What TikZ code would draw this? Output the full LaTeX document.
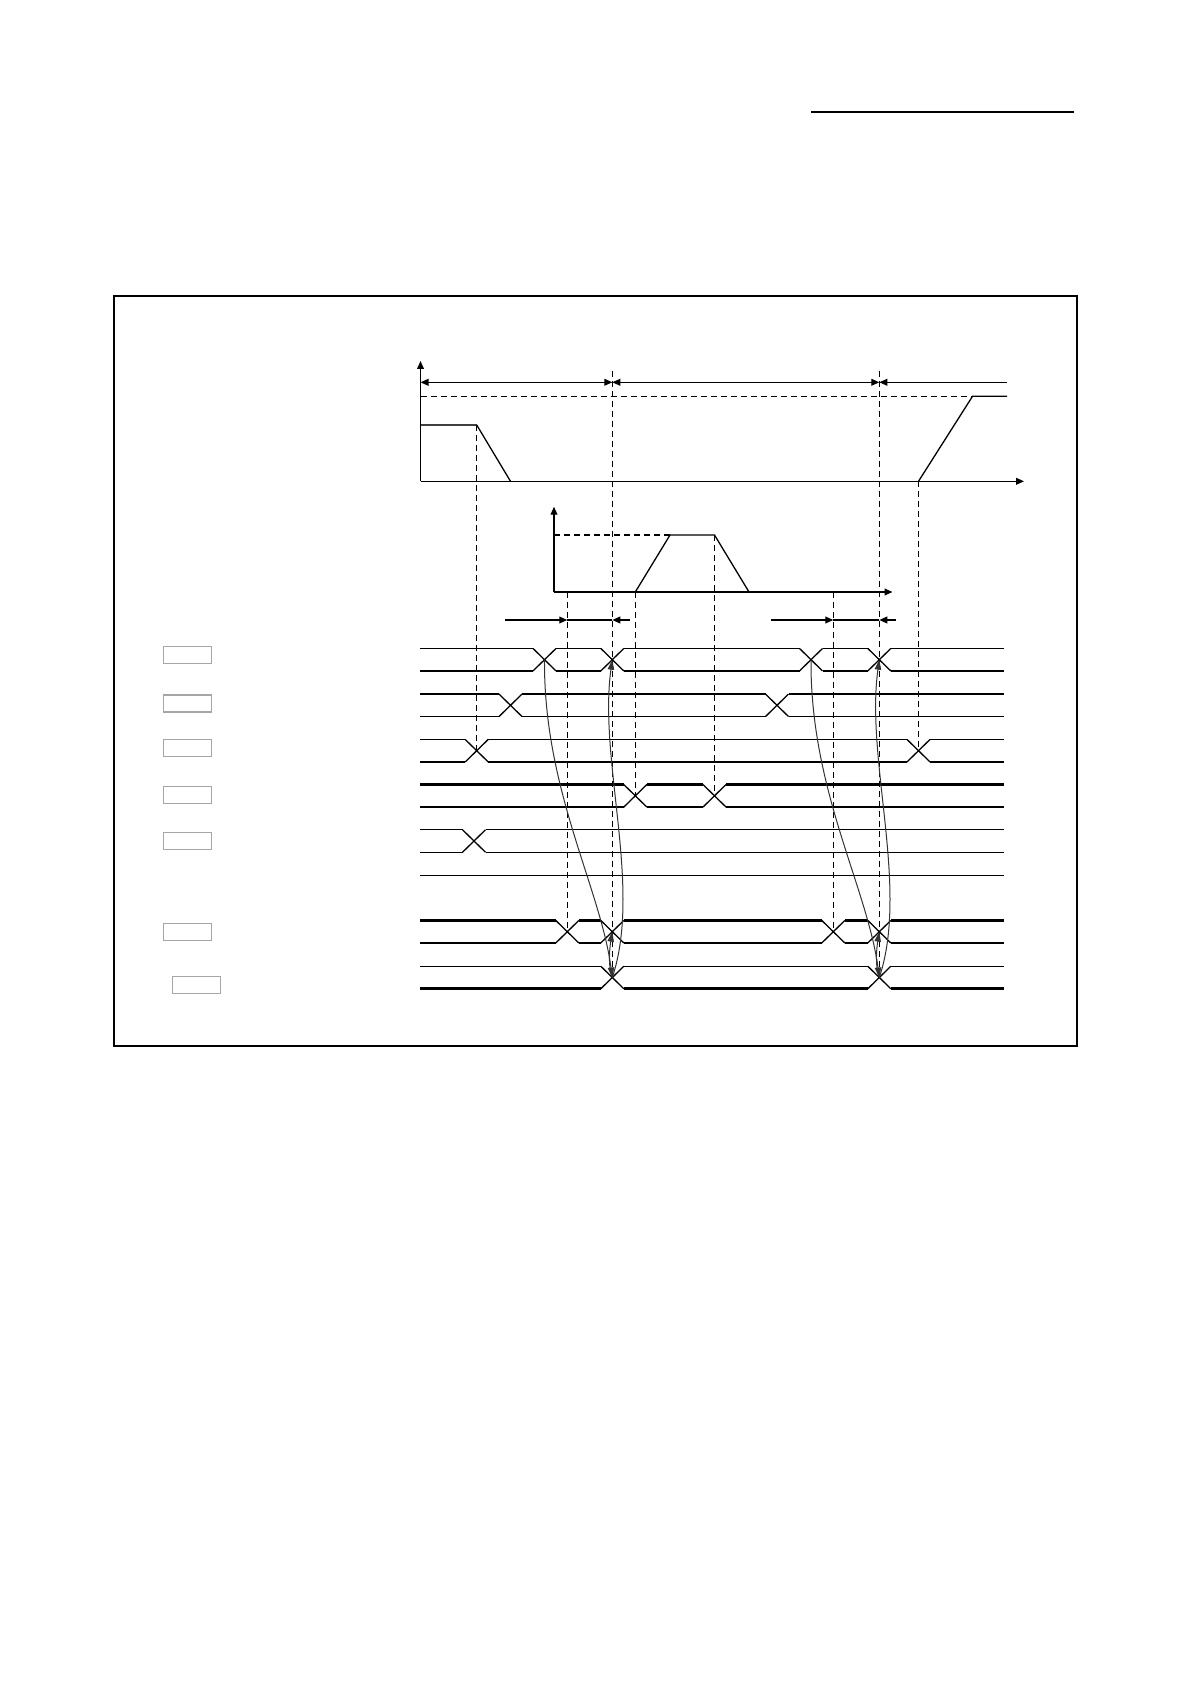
\documentclass[tikz,border=0pt]{standalone}
\usetikzlibrary{arrows.meta}

\begin{document}
\begin{tikzpicture}[x=0.5pt,y=-0.5pt,>={Triangle[length=4pt,width=3.4pt]},
		sig/.style={line width=0.65pt},
		guide/.style={line width=0.55pt,dash pattern=on 3pt off 2pt},
		axis/.style={line width=0.65pt,->},
		relay/.style={line width=0.5pt,black!80,-{Triangle[length=5pt,width=3.2pt]}},
		devbox/.style={draw=gray!70,line width=0.6pt,minimum width=24pt,minimum height=8.5pt,inner sep=0pt}]
		\useasboundingbox (0,0) rectangle (1190,1684);
		\draw[line width=0.8pt] (811,112) -- (1074,112);
		\draw[line width=1.4pt] (114,296) rectangle (1077,1046);

		\coordinate (o1) at (420.5,481.3);
		\draw[axis] (o1) -- (420.5,361);
		\draw[axis] (o1) -- (1024,481.3);
		\draw[sig,<->] (420.5,382.3) -- (612.3,382.3);
		\draw[sig,<->] (612.3,382.3) -- (879.3,382.3);
		\draw[sig,<-] (879.3,382.3) -- (1007,382.3);
		\draw[guide] (420.5,396.3) -- (972.5,396.3);
		\draw[line width=1pt,black!75] (420.5,425) -- (476.7,425);
		\draw[sig] (476.7,425) -- (510.5,481.3);
		\draw[sig] (918.5,481.3) -- (972.5,396.3) -- (1007,396.3);

		\coordinate (o2) at (554,592);
		\draw[axis] (o2) -- (554,506.7);
		\draw[axis] (o2) -- (892.5,592);
		\draw[guide] (554,535) -- (670,535);
		\draw[sig] (635.3,592) -- (670,535) -- (714.5,535) -- (749,592);

		\draw[sig,->] (505,620) -- (567.3,620);
		\draw[sig] (567.3,620) -- (612.3,620);
		\draw[sig,->] (630,620) -- (612.3,620);
		\draw[sig,->] (771,620) -- (833.3,620);
		\draw[sig] (833.3,620) -- (879.3,620);
		\draw[sig,->] (895.7,620) -- (879.3,620);

		\foreach \yc/\xs/\up/\dn in {659.7/{544.5,612.3,811,879.3}/0.65pt/0.65pt,
				705.3/{510.5,777}/0.65pt/0.65pt,
				750.7/{476.7,918.5}/0.65pt/0.65pt,
				795.8/{635.3,714.5}/1.3pt/0.65pt,
				841/{474}/0.65pt/0.65pt,
				931.7/{567.3,612.3,833.3,879.3}/1.3pt/0.65pt,
				977.5/{612.3,879.3}/0.65pt/1.3pt} {
			\draw[line width=\up] (420,\yc-11.25) -- (1004,\yc-11.25);
			\draw[line width=\dn] (420,\yc+11.25) -- (1004,\yc+11.25);
			\foreach \x in \xs {
				\fill[white] (\x-11.5,\yc-13) rectangle (\x+11.5,\yc+13);
				\draw[sig] (\x-11.5,\yc-11.25) -- (\x+11.5,\yc+11.25) (\x-11.5,\yc+11.25) -- (\x+11.5,\yc-11.25);
			}
		}
		\draw[sig] (420,875.3) -- (1004,875.3);

		\foreach \x/\ya/\yb in {476.7/425/750.7, 567.3/592/931.7, 612.3/370.7/977.5, 635.3/592/795.8,
				714.5/535/795.8, 833.3/592/931.7, 879.3/370.7/977.5, 918.5/481.3/750.7}
			\draw[guide] (\x,\ya) -- (\x,\yb);

		\node[devbox] (lb1) at (187.5,655.2) {};
		\node[devbox] (lb2) at (187.5,703.5) {};
		\node[devbox] (lb3) at (187.5,748) {};
		\node[devbox] (lb4) at (187.5,795.2) {};
		\node[devbox] (lb5) at (187.5,841) {};
		\node[devbox] (lb7) at (187.5,932) {};
		\node[devbox] (lb8) at (196.5,984.6) {};

		\coordinate (in1) at (544.5,659.7);
		\coordinate (out1) at (612.3,659.7);
		\coordinate (mid1) at (612.3,931.7);
		\coordinate (hub1) at (612.3,977.5);
		\coordinate (in2) at (811,659.7);
		\coordinate (out2) at (879.3,659.7);
		\coordinate (mid2) at (879.3,931.7);
		\coordinate (hub2) at (879.3,977.5);
		\draw[relay] (in1) .. controls +(-1,130) and +(-12,-90) .. (hub1);
		\draw[relay] (hub1) .. controls +(30,-90) and +(-14,100) .. (out1);
		\draw[relay] (hub1) .. controls +(-5,-12) and +(-2,12) .. (mid1);
		\draw[relay] (in2) .. controls +(-1,130) and +(-12,-90) .. (hub2);
		\draw[relay] (hub2) .. controls +(30,-90) and +(-14,100) .. (out2);
		\draw[relay] (hub2) .. controls +(-5,-12) and +(-2,12) .. (mid2);
\end{tikzpicture}
\end{document}
